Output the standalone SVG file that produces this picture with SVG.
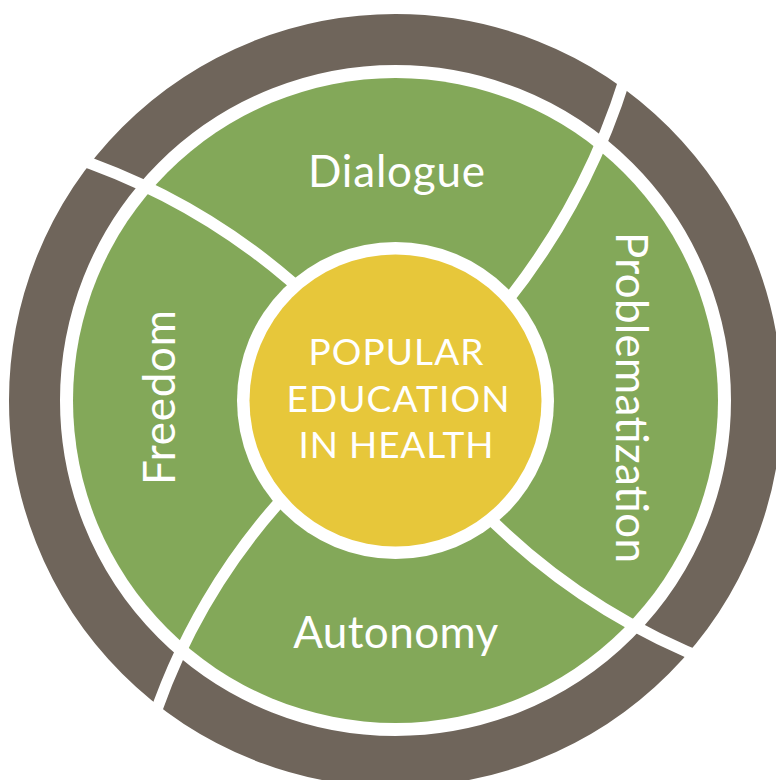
<svg xmlns="http://www.w3.org/2000/svg" width="776" height="780" viewBox="0 0 776 780">
<style>
.lbl{font-family:Lato,"Liberation Sans",sans-serif;font-size:44px;fill:#fff;text-anchor:middle}
.ctr{font-family:Lato,"Liberation Sans",sans-serif;font-size:37px;fill:#fff;text-anchor:middle}
.div{fill:none;stroke:#fff;stroke-width:11.5}
</style>
<rect width="776" height="780" fill="#fff"/>
<g id="outer-ring"><circle cx="395.5" cy="400.5" r="361" fill="none" stroke="#6F655B" stroke-width="51"/></g>
<g id="green-ring"><circle cx="395.5" cy="400.5" r="322.5" fill="#83A859"/></g>
<g id="dividers">
<path class="div" d="M 65.5 154.7 A 657.7 657.7 0 0 1 319.2 307.1"/>
<path class="div" d="M 633 50.4 A 694 694 0 0 1 494.3 316.9"/>
<path class="div" d="M 714.7 663.1 A 656.4 656.4 0 0 1 477.7 506.3"/>
<path class="div" d="M 147.7 736.8 A 631.8 631.8 0 0 1 297.4 482.6"/>
</g>
<g id="center">
<circle cx="395.5" cy="400.5" r="158.5" fill="#fff"/>
<circle cx="395.5" cy="400.5" r="146" fill="#E7C73A"/>
<text class="ctr" x="396" y="365" textLength="175">POPULAR</text>
<text class="ctr" x="398" y="411.7" textLength="223">EDUCATION</text>
<text class="ctr" x="396" y="458.3" textLength="195">IN HEALTH</text>
</g>
<g id="dialogue"><text class="lbl" x="396.5" y="187" textLength="177">Dialogue</text></g>
<g id="autonomy"><text class="lbl" x="395.7" y="648" textLength="205">Autonomy</text></g>
<g id="freedom"><text class="lbl" transform="translate(175,397.5) rotate(-90)" textLength="175">Freedom</text></g>
<g id="problematization"><text class="lbl" transform="translate(616.3,397.5) rotate(90)" textLength="331">Problematization</text></g>
</svg>
